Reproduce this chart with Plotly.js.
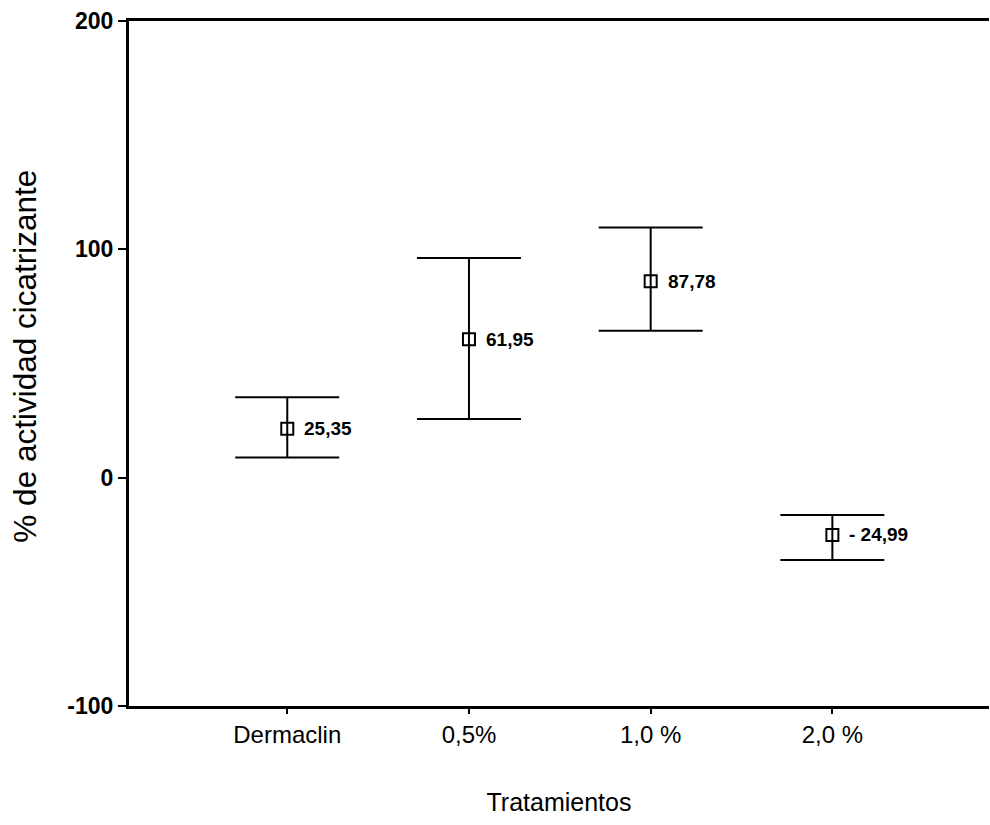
<!DOCTYPE html>
<html>
<head>
<meta charset="utf-8">
<script src="https://cdn.plot.ly/plotly-3.0.1.min.js"></script>
<style>html,body{margin:0;padding:0;background:#fff;}#chart{width:990px;height:825px;}</style>
</head>
<body>
<div id="chart"></div>
<script>
const categories = ["Dermaclin", "0,5%", "1,0 %", "2,0 %"];
const positions = [0, 1, 2, 3];
const means = [21.4, 60.6, 86.0, -25.1];
const upper = [35.2, 96.2, 109.6, -16.4];
const lower = [8.8, 25.7, 64.3, -36.1];
const labels = ["25,35", "61,95", "87,78", "- 24,99"];
const yTicks = [-100, 0, 100, 200];
const xTitle = "Tratamientos";
const yTitle = "% de actividad cicatrizante";

const errPlus = upper.map((u, i) => u - means[i]);
const errMinus = lower.map((l, i) => means[i] - l);

const sans = "'Liberation Sans', Arial, sans-serif";

const trace = {
  x: positions,
  y: means,
  type: "scatter",
  mode: "markers",
  marker: {symbol: "square-open", size: 12, color: "#000", line: {width: 2, color: "#000"}},
  error_y: {type: "data", symmetric: false, array: errPlus, arrayminus: errMinus,
            color: "#000", thickness: 2, width: 52},
  cliponaxis: false,
  hoverinfo: "skip"
};

const annotations = labels.map((t, i) => ({
  x: positions[i], y: means[i], xref: "x", yref: "y",
  text: "<b>" + t + "</b>", showarrow: false,
  xanchor: "left", yanchor: "middle", xshift: 15,
  font: {family: sans, size: 19, color: "#000"}
}));

annotations.push({
  xref: "paper", yref: "paper", x: 0, y: 0.51, xshift: -104,
  xanchor: "center", yanchor: "middle", textangle: -90,
  text: yTitle, showarrow: false,
  font: {family: sans, size: 31.5, color: "#000"}
});

const layout = {
  width: 990, height: 825,
  margin: {l: 129, r: 1, t: 21, b: 119},
  paper_bgcolor: "#fff", plot_bgcolor: "#fff",
  showlegend: false,
  annotations: annotations,
  xaxis: {
    range: [-0.871, 3.862],
    tickmode: "array", tickvals: positions, ticktext: categories,
    showgrid: false, zeroline: false,
    showline: true, linecolor: "#000", linewidth: 3, mirror: true,
    ticks: "outside", ticklen: 5, tickwidth: 2, tickcolor: "#000",
    tickfont: {family: sans, size: 24, color: "#000"},
    title: {text: xTitle, font: {family: sans, size: 25, color: "#000"}, standoff: 47}
  },
  yaxis: {
    range: [-100, 200],
    tickmode: "array", tickvals: yTicks, ticktext: yTicks.map(String),
    showgrid: false, zeroline: false,
    showline: true, linecolor: "#000", linewidth: 3,
    ticks: "outside", ticklen: 8, tickwidth: 2, tickcolor: "#000",
    tickfont: {family: sans, size: 23, color: "#000", weight: "bold"}
  }
};

Plotly.newPlot("chart", [trace], layout, {displayModeBar: false, staticPlot: true});
</script>
</body>
</html>
